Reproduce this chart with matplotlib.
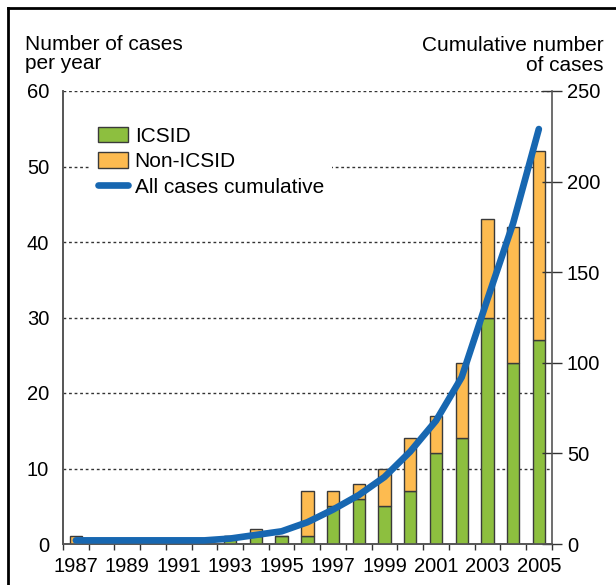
import numpy as np
import matplotlib
matplotlib.use('Agg')
import matplotlib.pyplot as plt
from matplotlib.lines import Line2D
from matplotlib.patches import Patch

plt.rcParams['font.family'] = ['Liberation Sans', 'DejaVu Sans']

# data
years = list(range(1987, 2006))
icsid = [0, 0, 0, 0, 0, 0, 1, 1, 1, 1, 5, 6, 5, 7, 12, 14, 30, 24, 27]
non_icsid = [1, 0, 0, 0, 0, 0, 0, 1, 0, 6, 2, 2, 5, 7, 5, 10, 13, 18, 25]
cumulative = [2, 2, 2, 2, 2, 2, 3, 5, 7, 12, 19, 27, 37, 51, 68, 92, 135, 177, 229]
tick_years = list(range(1987, 2006, 2))

green = '#8dbf3f'
orange = '#fdbb50'
blue = '#1767b1'
edge = '#3a3a3a'

fig = plt.figure(figsize=(6.16, 5.85), dpi=100)
W, H = 616, 585
ax = fig.add_axes([63 / W, 41 / H, 488.7 / W, 453 / H])
ax2 = ax.twinx()

# bars
ax.bar(years, icsid, width=0.48, color=green, edgecolor=edge, linewidth=1, zorder=3)
ax.bar(years, non_icsid, width=0.48, bottom=icsid, color=orange, edgecolor=edge,
       linewidth=1, zorder=3)

ax.set_xlim(1986.5, 2005.5)
ax.set_ylim(0, 60)
ax.set_yticks(range(0, 61, 10))
ax.tick_params(axis='y', length=0, pad=10, labelsize=14.5)
for v in range(10, 61, 10):
    ax.axhline(v, color='#333333', lw=1, ls=(0, (2, 2)), zorder=1)

ax.set_xticks(np.arange(1986.5, 2006, 1))
ax.set_xticklabels([])
ax.set_xticks(tick_years, minor=True)
ax.set_xticklabels([str(y) for y in tick_years], minor=True, fontsize=14.5)
ax.tick_params(axis='x', which='major', direction='out', length=4.5, color='#333333', width=1)
ax.tick_params(axis='x', which='minor', length=0, pad=9)

# cumulative line
ax2.set_ylim(0, 250)
ax2.set_yticks(range(0, 251, 50))
ax2.tick_params(axis='y', direction='inout', length=14, width=1, color='#333333',
                labelsize=14.5, pad=4)
ax2.plot(years, cumulative, color=blue, lw=4.8, solid_capstyle='round',
         solid_joinstyle='round', zorder=5)

for a in (ax, ax2):
    a.spines['top'].set_visible(False)
    for s in ('left', 'right', 'bottom'):
        a.spines[s].set_color('#555555')
        a.spines[s].set_linewidth(1.2)
ax.spines['right'].set_visible(False)

# axis titles
fig.text(25 / W, 1 - 50 / H, 'Number of cases', ha='left', va='baseline', fontsize=15)
fig.text(25 / W, 1 - 69 / H, 'per year', ha='left', va='baseline', fontsize=15)
fig.text(604 / W, 1 - 51 / H, 'Cumulative number', ha='right', va='baseline', fontsize=15)
fig.text(604 / W, 1 - 71 / H, 'of cases', ha='right', va='baseline', fontsize=15)

# legend
handles = [Patch(facecolor=green, edgecolor=edge, linewidth=1),
           Patch(facecolor=orange, edgecolor=edge, linewidth=1),
           Line2D([0], [0], color=blue, lw=4.8, solid_capstyle='round')]
labels = ['ICSID', 'Non-ICSID', 'All cases cumulative']
leg = ax2.legend(handles, labels, loc='upper left', bbox_to_anchor=(0.055, 0.94),
                 frameon=True, fancybox=False, fontsize=15, handlelength=1.45,
                 handleheight=0.8, handletextpad=0.3, labelspacing=0.3,
                 borderaxespad=0, borderpad=0.4)
leg.get_frame().set_facecolor('white')
leg.get_frame().set_edgecolor('none')
leg.get_frame().set_alpha(1)

# outer frame
fig.add_artist(Line2D([7.5 / W, 7.5 / W], [0, 1 - 7.5 / H], color='black', lw=2,
                      transform=fig.transFigure))
fig.add_artist(Line2D([7.5 / W, 1], [1 - 7.5 / H, 1 - 7.5 / H], color='black', lw=2,
                      transform=fig.transFigure))

plt.savefig('out.png', dpi=100)
